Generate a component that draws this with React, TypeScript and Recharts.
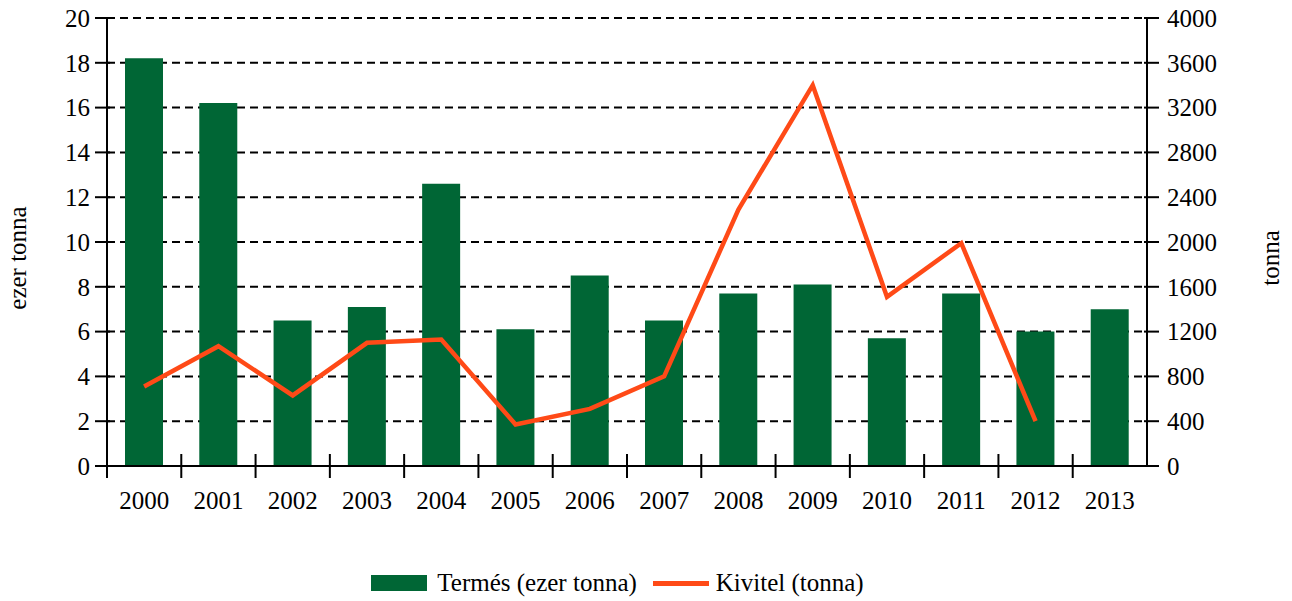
import {
  ComposedChart,
  Bar,
  Line,
  XAxis,
  YAxis,
  CartesianGrid,
  Legend,
} from "recharts";

const years = ["2000", "2001", "2002", "2003", "2004", "2005", "2006", "2007", "2008", "2009", "2010", "2011", "2012", "2013"];
const termes = [18.2, 16.2, 6.5, 7.1, 12.6, 6.1, 8.5, 6.5, 7.7, 8.1, 5.7, 7.7, 6.0, 7.0];
const kivitel: Array<number | null> = [710, 1070, 630, 1100, 1130, 370, 510, 800, 2290, 3400, 1510, 1990, 400, null];
const leftTicks = [0, 2, 4, 6, 8, 10, 12, 14, 16, 18, 20];
const rightTicks = [0, 400, 800, 1200, 1600, 2000, 2400, 2800, 3200, 3600, 4000];

const data = years.map((year, i) => ({ year, termes: termes[i], kivitel: kivitel[i] }));

const FONT = "'Times New Roman', Times, Tinos, 'Liberation Serif', 'DejaVu Serif', 'Noto Serif', FreeSerif, serif";
const GREEN = "#006635";
const ORANGE = "#ff4a17";
const W = 1292;
const H = 601;
const PLOT_W = 1040;
const CAT = PLOT_W / years.length;
const FS = 25;

const LeftTick = ({ x, y, payload }: any) => (
  <g>
    <line x1={x - 12} x2={x + 3} y1={y} y2={y} stroke="#000" strokeWidth={2} />
    <text x={x - 17} y={y} dy="0.35em" textAnchor="end" fontSize={FS} fontFamily={FONT} fill="#000">
      {payload.value}
    </text>
  </g>
);

const RightTick = ({ x, y, payload }: any) => (
  <g>
    <line x1={x - 3} x2={x + 12} y1={y} y2={y} stroke="#000" strokeWidth={2} />
    <text x={x + 20} y={y} dy="0.35em" textAnchor="start" fontSize={FS} fontFamily={FONT} fill="#000">
      {payload.value}
    </text>
  </g>
);

const BottomTick = ({ x, y, payload }: any) => (
  <g>
    <line x1={x - CAT / 2} x2={x - CAT / 2} y1={y - 12} y2={y + 12} stroke="#000" strokeWidth={2} />
    <text x={x} y={y + 43} textAnchor="middle" fontSize={FS} fontFamily={FONT} fill="#000">
      {payload.value}
    </text>
  </g>
);

const LegendContent = () => (
  <div
    style={{
      display: "flex",
      justifyContent: "center",
      alignItems: "center",
      height: 30,
      fontFamily: FONT,
      fontSize: FS,
      color: "#000",
    }}
  >
    <span style={{ display: "inline-block", width: 56, height: 16, background: GREEN, marginRight: 10 }} />
    <span style={{ marginRight: 16 }}>Termés (ezer tonna)</span>
    <span style={{ display: "inline-block", width: 56, height: 5, background: ORANGE, marginRight: 7 }} />
    <span>Kivitel (tonna)</span>
  </div>
);

export default function App() {
  return (
    <div style={{ position: "absolute", left: 0, top: 0, fontFamily: FONT }}>
      <ComposedChart
        width={W}
        height={H}
        data={data}
        margin={{ top: 18, right: 65, left: 8, bottom: 3 }}
        barCategoryGap={0}
      >
        <CartesianGrid
          yAxisId="left"
          vertical={false}
          stroke="#000"
          strokeWidth={2}
          strokeDasharray="8 5"
        />
        <XAxis
          dataKey="year"
          height={102}
          axisLine={{ stroke: "#000", strokeWidth: 2 }}
          tickLine={false}
          tickSize={0}
          tickMargin={0}
          tick={<BottomTick />}
          interval={0}
        />
        <YAxis
          yAxisId="left"
          width={99}
          domain={[0, 20]}
          ticks={leftTicks}
          axisLine={{ stroke: "#000", strokeWidth: 2 }}
          tickLine={false}
          tickSize={0}
          tickMargin={0}
          tick={<LeftTick />}
          interval={0}
          label={{
            content: () => (
              <text
                x={17}
                y={258}
                transform="rotate(-90, 17, 258)"
                textAnchor="middle"
                dominantBaseline="central"
                fontSize={FS}
                fontFamily={FONT}
                fill="#000"
              >
                ezer tonna
              </text>
            ),
          }}
        />
        <YAxis
          yAxisId="right"
          orientation="right"
          width={80}
          domain={[0, 4000]}
          ticks={rightTicks}
          axisLine={{ stroke: "#000", strokeWidth: 2 }}
          tickLine={false}
          tickSize={0}
          tickMargin={0}
          tick={<RightTick />}
          interval={0}
          label={{
            content: () => (
              <text
                x={1270}
                y={258}
                transform="rotate(-90, 1270, 258)"
                textAnchor="middle"
                dominantBaseline="central"
                fontSize={FS}
                fontFamily={FONT}
                fill="#000"
              >
                tonna
              </text>
            ),
          }}
        />
        <Legend verticalAlign="bottom" height={30} content={<LegendContent />} />
        <Bar yAxisId="left" dataKey="termes" name="Termés (ezer tonna)" fill={GREEN} barSize={38} isAnimationActive={false} />
        <Line
          yAxisId="right"
          type="linear"
          dataKey="kivitel"
          name="Kivitel (tonna)"
          stroke={ORANGE}
          strokeWidth={4.5}
          dot={false}
          activeDot={false}
          isAnimationActive={false}
        />
      </ComposedChart>
    </div>
  );
}
